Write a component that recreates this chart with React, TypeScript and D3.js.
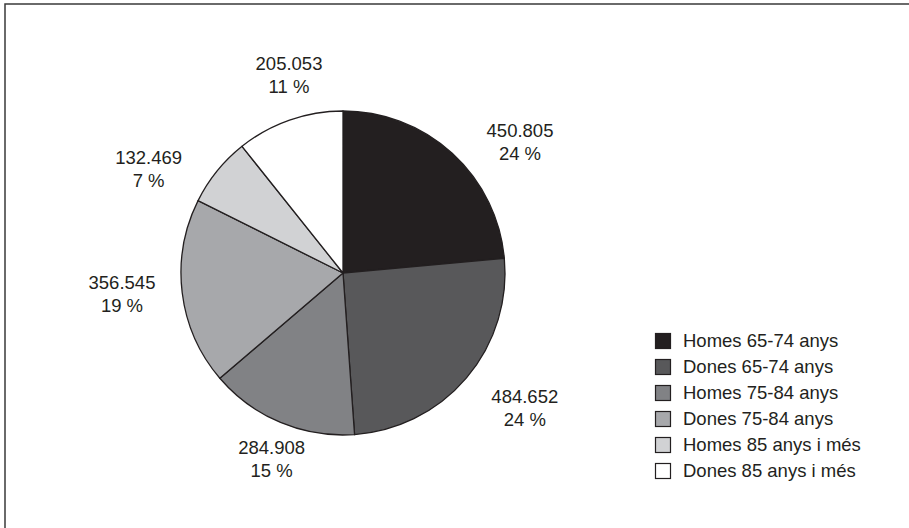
import React from "react";
import * as d3 from "d3";

const categories = [
  "Homes 65-74 anys",
  "Dones 65-74 anys",
  "Homes 75-84 anys",
  "Dones 75-84 anys",
  "Homes 85 anys i més",
  "Dones 85 anys i més",
];
const values = [450805, 484652, 284908, 356545, 132469, 205053];
const valueLabels = ["450.805", "484.652", "284.908", "356.545", "132.469", "205.053"];
const percentLabels = ["24 %", "24 %", "15 %", "19 %", "7 %", "11 %"];
const colors = ["#231f20", "#58585a", "#818285", "#a7a8ab", "#d1d2d4", "#ffffff"];

const W = 909;
const H = 528;
const CX = 343;
const CY = 273;
const R = 162;
const FONT = "'Liberation Sans', Arial, Helvetica, sans-serif";
const TEXT = "#231f20";

// label placement: radius factor and angular shift (degrees) from each slice's mid angle
const labelRadius = [1.363, 1.395, 1.224, 1.37, 1.364, 1.273];
const labelShift = [10.9, -3.9, -1.6, 1.8, -10.6, 4.1];

export default function App() {
  const pie = d3.pie<number>().sort(null).value((d) => d)(values);
  const arc = d3.arc<d3.PieArcDatum<number>>().innerRadius(0).outerRadius(R);

  const labelPos = pie.map((p, i) => {
    const a = (p.startAngle + p.endAngle) / 2 + (labelShift[i] * Math.PI) / 180;
    const r = R * labelRadius[i];
    return [Math.sin(a) * r, -Math.cos(a) * r];
  });

  const legendX = 655;
  const legendY0 = 347;
  const legendStep = 26;

  return (
    <svg
      width={W}
      height={H}
      style={{ position: "absolute", left: 0, top: 0, background: "#fff" }}
      fontFamily={FONT}
    >
      <rect x={5} y={4} width={2000} height={2000} fill="none" stroke="#3a3a3a" strokeWidth={1.5} />
      <g transform={`translate(${CX},${CY})`}>
        {pie.map((p, i) => (
          <path key={i} d={arc(p) || ""} fill={colors[i]} stroke={TEXT} strokeWidth={1.3} strokeLinejoin="round" />
        ))}
        {pie.map((p, i) => (
          <text key={"l" + i} textAnchor="middle" fontSize={18.5} fill={TEXT}>
            <tspan x={labelPos[i][0]} y={labelPos[i][1] - 4}>{valueLabels[i]}</tspan>
            <tspan x={labelPos[i][0]} y={labelPos[i][1] + 19}>{percentLabels[i]}</tspan>
          </text>
        ))}
      </g>
      <g>
        {categories.map((c, i) => (
          <g key={c} transform={`translate(${legendX},${legendY0 + i * legendStep})`}>
            <rect x={0.5} y={-13.5} width={15} height={15} fill={colors[i]} stroke={TEXT} strokeWidth={1.2} />
            <text x={28} y={0} fontSize={18.5} fill={TEXT}>{c}</text>
          </g>
        ))}
      </g>
    </svg>
  );
}
